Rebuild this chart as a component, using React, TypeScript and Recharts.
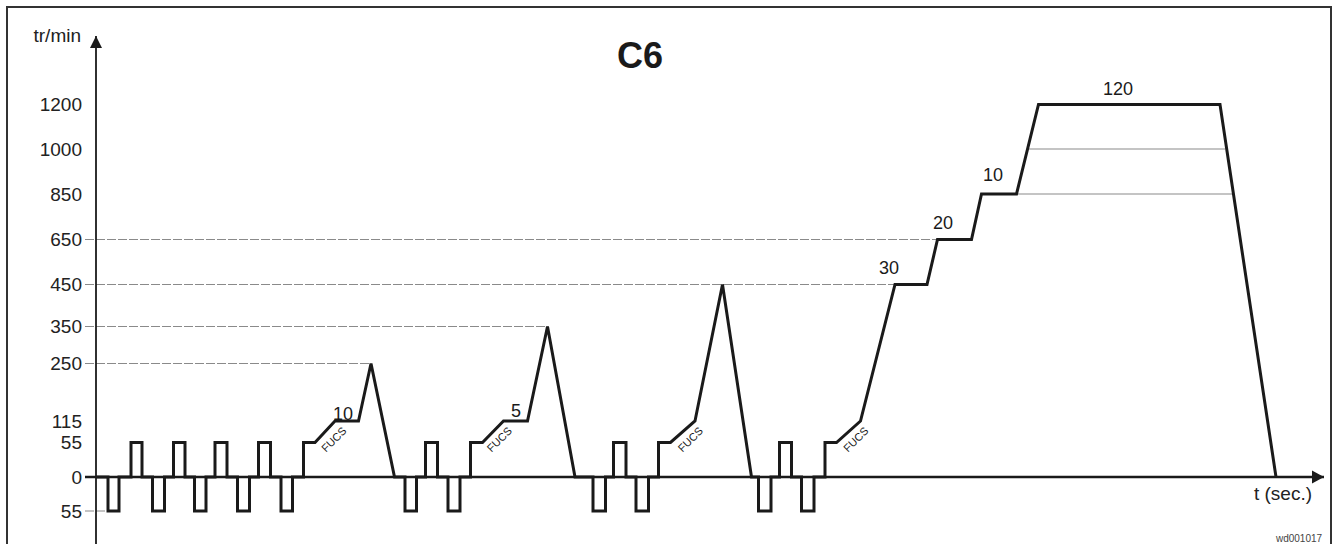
import React from 'react';
import { LineChart, Line, XAxis, YAxis, ReferenceLine, ReferenceDot } from 'recharts';

// speed axis is schematic (not linear): each rpm level and its height above the zero line
const rpmLevels = [-55, 0, 55, 115, 250, 350, 450, 650, 850, 1000, 1200];
const levelPos = [-34, 0, 34.5, 56, 113.5, 150.5, 192.5, 237.5, 283, 328, 372.5];
const levelLabels = ['55', '0', '55', '115', '250', '350', '450', '650', '850', '1000', '1200'];

// drum speed profile, time in schematic units
const profileTime = [
  0,
  12, 12, 23, 23, 35, 35, 46, 46,
  56.5, 56.5, 68.5, 68.5, 77.5, 77.5, 89, 89,
  98.5, 98.5, 110, 110, 119, 119, 131, 131,
  141.5, 141.5, 153.5, 153.5, 162.5, 162.5, 174.5, 174.5,
  185, 185, 196.5, 196.5,
  207.5, 207.5, 219, 239, 262.5, 275, 298.5,
  309, 309, 320.5, 320.5, 329.5, 329.5, 341.5, 341.5, 352, 352, 364, 364,
  374.5, 374.5, 386.5, 407.5, 431.5, 451.5, 479,
  497, 497, 509.5, 509.5, 517.5, 517.5, 530, 530, 540, 540, 552.5, 552.5,
  562.5, 562.5, 574.5, 599, 626.5, 655.5,
  662.5, 662.5, 675, 675, 683.5, 683.5, 695.5, 695.5, 705.5, 705.5, 718, 718,
  729, 729, 740.5, 764.5, 799, 831, 841.5, 875.5, 885.5, 920.5, 942.5, 1124, 1180,
];
const profileRpm = [
  0,
  0, -55, -55, 0, 0, 55, 55, 0,
  0, -55, -55, 0, 0, 55, 55, 0,
  0, -55, -55, 0, 0, 55, 55, 0,
  0, -55, -55, 0, 0, 55, 55, 0,
  0, -55, -55, 0,
  0, 55, 55, 115, 115, 250, 0,
  0, -55, -55, 0, 0, 55, 55, 0, 0, -55, -55, 0,
  0, 55, 55, 115, 115, 350, 0,
  0, -55, -55, 0, 0, 55, 55, 0, 0, -55, -55, 0,
  0, 55, 55, 115, 450, 0,
  0, -55, -55, 0, 0, 55, 55, 0, 0, -55, -55, 0,
  0, 55, 55, 115, 450, 450, 650, 650, 850, 850, 1200, 1200, 0,
];

// dashed guide lines from the speed axis to the point they mark
const guideRpm = [650, 450, 350, 250, -55];
const guideEnd = [841.5, 799, 451.5, 275, 12];

// thin lines inside the final spin
const innerRpm = [1000, 850];
const innerStart = [931.5, 920.5];
const innerEnd = [1129, 1137];

// durations written over the steps (sec.)
const stepLabels = ['10', '5', '30', '20', '10', '120'];
const stepTime = [247, 420, 793, 847, 897, 1022];
const stepRpm = [115, 115, 450, 650, 850, 1200];
const stepLift = [7.5, 10.5, 17, 17, 19, 16];

// FUCS ramps
const fucsTime = [238, 403.5, 594.5, 760];

const T_MIN = -11;
const T_MAX = 1228;
const FONT = '"Liberation Sans", Arial, sans-serif';
const INK = '#1a1a1a';

const toAxis = (rpm: number) => {
  for (let i = 1; i < rpmLevels.length; i++) {
    if (rpm <= rpmLevels[i]) {
      const f = (rpm - rpmLevels[i - 1]) / (rpmLevels[i] - rpmLevels[i - 1]);
      return levelPos[i - 1] + f * (levelPos[i] - levelPos[i - 1]);
    }
  }
  return levelPos[levelPos.length - 1];
};

const profile = profileTime.map((t, i) => ({ t, y: toAxis(profileRpm[i]) }));

const textShape = (text: string, lift: number, size: number, angle = 0) => (p: any) => (
  <text
    x={p.cx}
    y={p.cy - lift}
    dy="0.35em"
    textAnchor="middle"
    fontSize={size}
    fill={INK}
    fontFamily={FONT}
    transform={angle ? `rotate(${angle} ${p.cx} ${p.cy - lift})` : undefined}
  >
    {text}
  </text>
);

export default function App() {
  return (
    <div style={{ position: 'absolute', left: 0, top: 0, width: 1338, height: 544, overflow: 'hidden', background: '#fff' }}>
      <LineChart
        width={1338}
        height={544}
        data={profile}
        margin={{ top: 36, right: 14, bottom: 0, left: 25 }}
        style={{ fontFamily: FONT }}
      >
        <XAxis type="number" dataKey="t" domain={[T_MIN, T_MAX]} hide allowDataOverflow />
        <YAxis
          type="number"
          domain={[-67, 441]}
          ticks={levelPos}
          interval={0}
          width={60}
          axisLine={false}
          tickLine={false}
          tickSize={0}
          tickMargin={3}
          allowDataOverflow
          tickFormatter={(v: number) => levelLabels[levelPos.indexOf(v)]}
          tick={{ fill: '#222', fontSize: 19 }}
        />

        {guideRpm.map((r, i) => (
          <ReferenceLine
            key={'g' + i}
            segment={[{ x: T_MIN, y: toAxis(r) }, { x: guideEnd[i], y: toAxis(r) }]}
            stroke="#8a8a8a"
            strokeWidth={1.2}
            strokeDasharray="9 2"
            ifOverflow="visible"
          />
        ))}
        {innerRpm.map((r, i) => (
          <ReferenceLine
            key={'in' + i}
            segment={[{ x: innerStart[i], y: toAxis(r) }, { x: innerEnd[i], y: toAxis(r) }]}
            stroke="#8a8a8a"
            strokeWidth={1.2}
            ifOverflow="visible"
          />
        ))}

        {/* axes */}
        <ReferenceLine x={0} stroke={INK} strokeWidth={1.8} ifOverflow="visible" />
        <ReferenceLine y={0} stroke={INK} strokeWidth={2.6} ifOverflow="visible" />

        <Line
          type="linear"
          dataKey="y"
          stroke={INK}
          strokeWidth={3}
          dot={false}
          activeDot={false}
          isAnimationActive={false}
        />

        <ReferenceDot
          x={0}
          y={441}
          ifOverflow="visible"
          shape={(p: any) => (
            <polygon points={`${p.cx},${p.cy} ${p.cx - 6},${p.cy + 12} ${p.cx + 6},${p.cy + 12}`} fill={INK} />
          )}
        />
        <ReferenceDot
          x={T_MAX}
          y={0}
          ifOverflow="visible"
          shape={(p: any) => (
            <polygon points={`${p.cx},${p.cy} ${p.cx - 12},${p.cy - 6.5} ${p.cx - 12},${p.cy + 6.5}`} fill={INK} />
          )}
        />

        {stepLabels.map((s, i) => (
          <ReferenceDot
            key={'s' + i}
            x={stepTime[i]}
            y={toAxis(stepRpm[i])}
            ifOverflow="visible"
            shape={textShape(s, stepLift[i], 18)}
          />
        ))}
        {fucsTime.map((t, i) => (
          <ReferenceDot
            key={'f' + i}
            x={t}
            y={toAxis(55)}
            ifOverflow="visible"
            shape={textShape('FUCS', 3, 11, -45)}
          />
        ))}
      </LineChart>

      <svg width={1338} height={544} style={{ position: 'absolute', left: 0, top: 0, pointerEvents: 'none' }}>
        <path d="M7,560 V7 H1331 V560" fill="none" stroke="#333" strokeWidth={2} />
        <text x={640} y={68} textAnchor="middle" fontSize={36} fontWeight="bold" fill={INK} fontFamily={FONT}>
          C6
        </text>
        <text x={81} y={42} textAnchor="end" fontSize={19} fill="#222" fontFamily={FONT}>
          tr/min
        </text>
        <text x={1283} y={500} textAnchor="middle" fontSize={19} fill="#222" fontFamily={FONT}>
          t (sec.)
        </text>
        <text x={1299} y={542} textAnchor="middle" fontSize={10} fill="#444" fontFamily={FONT}>
          wd001017
        </text>
      </svg>
    </div>
  );
}
